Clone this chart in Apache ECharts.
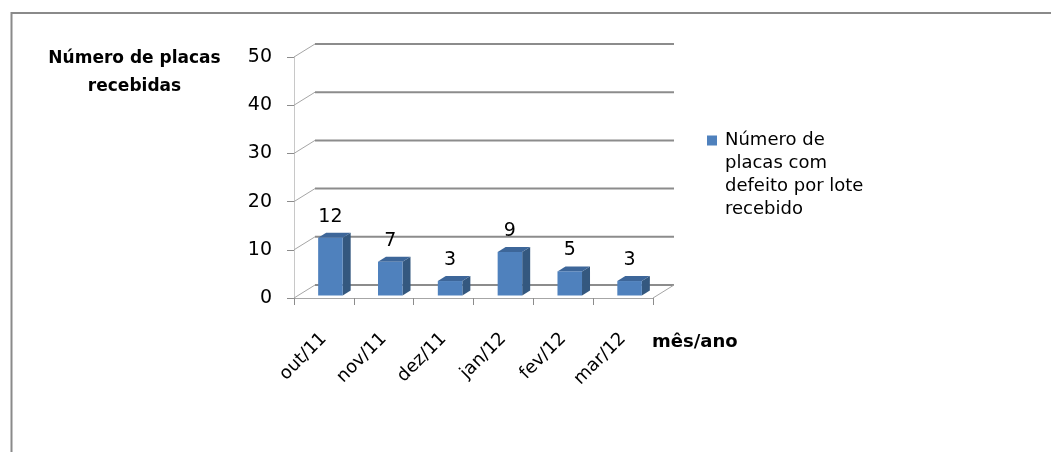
<!DOCTYPE html>
<html>
<head>
<meta charset="utf-8">
<script src="https://cdn.jsdelivr.net/npm/echarts@6/dist/echarts.min.js"></script>
<style>
  html, body { margin: 0; padding: 0; background: #ffffff; }
  #chart { width: 1051px; height: 452px; }
</style>
</head>
<body>
<div id="chart"></div>
<script>
// Categories and values
const months = ['out/11', 'nov/11', 'dez/11', 'jan/12', 'fev/12', 'mar/12'];
const defectivePlates = [12, 7, 3, 9, 5, 3];
const yTicks = [0, 10, 20, 30, 40, 50];
const seriesName = 'Número de placas com defeito por lote recebido';
const legendText = 'Número de\nplacas com\ndefeito por lote\nrecebido';
const yTitle = 'Número de placas\nrecebidas';
const xTitle = 'mês/ano';

// 3D look: back wall offset and column depth (pixels)
const WALL_DX = 21, WALL_DY = -13;
const BAR_DX = 8, BAR_DY = -5;
const BAR_SHIFT = 6.5, BAR_FRONT_DY = -2.5, BAR_WIDTH_RATIO = 0.41;
const FONT = 'DejaVu Sans';

// legend marker: a 10px square pinned to the top of a tall item box,
// so it sits beside the first line of the wrapped legend text
const LEGEND_ICON = 'path://M0,0L10,0L10,10L0,10Z M0,79L0.01,79L0.01,79.01Z';

const chart = echarts.init(document.getElementById('chart'), null, { renderer: 'canvas' });

// back wall gridlines + side wall connectors, one item per tick
function renderWall(params, api) {
  const v = api.value(1);
  const band = api.size([1, 0])[0];
  const pL = api.coord([0, v]);
  const pR = api.coord([months.length - 1, v]);
  const left = pL[0] - band / 2;
  const right = pR[0] + band / 2;
  const y = pL[1];
  const children = [
    { type: 'line', shape: { x1: left, y1: y, x2: left + WALL_DX, y2: y + WALL_DY },
      style: { stroke: '#a6a6a6', lineWidth: 1 } },
    { type: 'line', shape: { x1: left + WALL_DX, y1: y + WALL_DY, x2: right + WALL_DX, y2: y + WALL_DY },
      style: { stroke: '#8c8c8c', lineWidth: 2 } }
  ];
  if (v === yTicks[0]) {
    children.push({ type: 'line', shape: { x1: right, y1: y, x2: right + WALL_DX, y2: y + WALL_DY },
      style: { stroke: '#a6a6a6', lineWidth: 1 } });
  }
  return { type: 'group', children };
}

// columns drawn as front, side and top faces with a value label
function renderColumn(params, api) {
  const idx = api.value(0);
  const val = api.value(1);
  const top = api.coord([idx, val]);
  const base = api.coord([idx, 0]);
  const band = api.size([1, 0])[0];
  const w = band * BAR_WIDTH_RATIO;
  const cx = top[0] + BAR_SHIFT;
  const x0 = cx - w / 2, x1 = cx + w / 2;
  const yTop = top[1] + BAR_FRONT_DY;
  const yBot = base[1] + BAR_FRONT_DY;
  return {
    type: 'group',
    children: [
      { type: 'polygon', shape: { points: [[x1, yTop], [x1 + BAR_DX, yTop + BAR_DY], [x1 + BAR_DX, yBot + BAR_DY], [x1, yBot]] },
        style: { fill: '#34587f' } },
      { type: 'polygon', shape: { points: [[x0, yTop], [x1, yTop], [x1 + BAR_DX, yTop + BAR_DY], [x0 + BAR_DX, yTop + BAR_DY]] },
        style: { fill: '#3d6699' } },
      { type: 'rect', shape: { x: x0, y: yTop, width: w, height: yBot - yTop },
        style: { fill: '#4f81bd' } },
      { type: 'text', x: cx, y: yTop - 21,
        style: { text: String(val), fill: '#000', font: '19px "' + FONT + '"', align: 'center', verticalAlign: 'middle' } }
    ]
  };
}

const option = {
  animation: false,
  backgroundColor: '#ffffff',
  color: ['#4f81bd'],
  grid: { left: 294, right: 398, top: 57, bottom: 154, outerBoundsMode: 'none' },
  legend: {
    data: [seriesName],
    left: 707,
    top: 129,
    padding: 0,
    orient: 'vertical',
    icon: LEGEND_ICON,
    itemWidth: 10,
    itemHeight: 79,
    formatter: () => legendText,
    textStyle: { fontFamily: FONT, fontSize: 18, color: '#000', lineHeight: 23, padding: [0, 0, 0, 3] }
  },
  xAxis: {
    type: 'category',
    data: months,
    axisLine: { show: true, lineStyle: { color: '#a6a6a6', width: 1 } },
    axisTick: { show: true, length: 7, lineStyle: { color: '#8c8c8c' } },
    axisLabel: { rotate: 45, margin: 38, fontFamily: FONT, fontSize: 18, color: '#000' },
    splitLine: { show: false }
  },
  yAxis: {
    type: 'value',
    min: yTicks[0],
    max: yTicks[yTicks.length - 1],
    interval: yTicks[1] - yTicks[0],
    axisLine: { show: true, lineStyle: { color: '#c8c8c8', width: 1 } },
    axisTick: { show: true, length: 7, lineStyle: { color: '#8c8c8c' } },
    axisLabel: { margin: 22, fontFamily: FONT, fontSize: 19, color: '#000' },
    splitLine: { show: false }
  },
  graphic: [
    { type: 'polyline', shape: { points: [[11.5, 452], [11.5, 13], [1051, 13]] },
      style: { stroke: '#8a8a8a', lineWidth: 2, fill: null } },
    { type: 'text', x: 134.5, y: 45,
      style: { text: yTitle, font: 'bold 17px "' + FONT + '"', fill: '#000', align: 'center', verticalAlign: 'top', lineHeight: 28 } },
    { type: 'text', x: 652, y: 342,
      style: { text: xTitle, font: 'bold 18px "' + FONT + '"', fill: '#000', align: 'left', verticalAlign: 'middle' } }
  ],
  series: [
    {
      name: 'wall',
      type: 'custom',
      coordinateSystem: 'cartesian2d',
      clip: false,
      silent: true,
      z: 1,
      data: yTicks.map(t => [0, t]),
      renderItem: renderWall
    },
    {
      name: seriesName,
      type: 'custom',
      coordinateSystem: 'cartesian2d',
      clip: false,
      z: 3,
      itemStyle: { color: '#4f81bd' },
      data: defectivePlates.map((v, i) => [i, v]),
      encode: { x: 0, y: 1 },
      renderItem: renderColumn
    }
  ]
};

chart.setOption(option);
</script>
</body>
</html>
